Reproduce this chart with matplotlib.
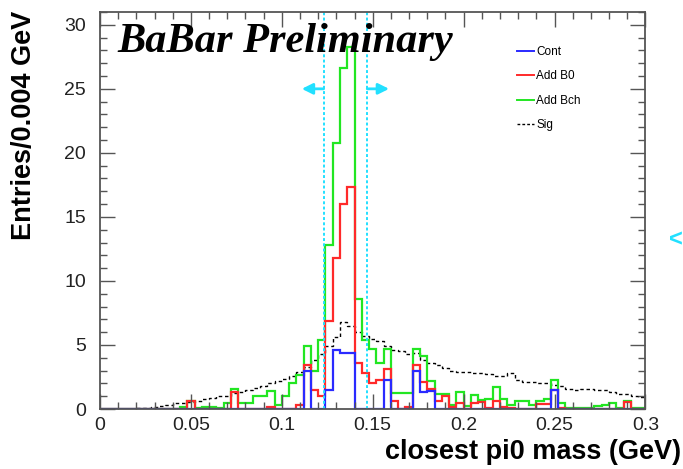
"""Plot the closest pi0 mass spectrum for the continuum and B background samples."""

import matplotlib.pyplot as plt
import numpy as np
from matplotlib.lines import Line2D
from matplotlib.ticker import MultipleLocator


BIN_WIDTH = 0.004
N_BINS = 75

# Entries per bin, bins of 0.004 GeV from 0 to 0.3 GeV
CONT_VALUES = [
    0, 0, 0, 0, 0, 0, 0, 0, 0, 0,
    0, 0, 0, 0, 0, 0, 0, 0, 0, 0,
    0, 0, 0, 0, 0, 0, 0, 0, 3.0, 0,
    0, 1.5, 4.6, 4.35, 4.4, 0, 0, 0, 0, 2.3,
    0, 0, 0, 3.0, 1.35, 1.4, 0, 0, 0, 0,
    0, 0, 0, 0, 0, 0, 0, 0, 0, 0,
    0, 0, 1.5, 0, 0, 0, 0, 0, 0, 0,
    0, 0, 0, 0, 0,
]
ADD_B0_VALUES = [
    0, 0, 0, 0, 0, 0, 0, 0, 0, 0,
    0, 0, 0.6, 0, 0, 0, 0, 0, 1.35, 0,
    0, 0, 0, 0.15, 0, 0, 0, 0.35, 3.4, 1.5,
    1.05, 6.9, 11.8, 16.0, 17.3, 3.6, 2.8, 2.0, 2.3, 3.1,
    0.65, 0, 0.15, 3.45, 2.1, 1.6, 0.6, 1.0, 0.15, 0.5,
    0, 0.5, 0.55, 0.1, 0.6, 0.15, 0.1, 0, 0, 0,
    0.4, 0.4, 1.5, 0.1, 0, 0, 0, 0, 0, 0,
    0, 0, 0.55, 0, 0,
]
ADD_BCH_VALUES = [
    0, 0, 0, 0, 0, 0, 0, 0, 0, 0,
    0, 0.15, 0.6, 0.1, 0.15, 0.15, 0.1, 0.5, 1.6, 0.5,
    0.5, 1.0, 1.0, 1.4, 0.3, 1.0, 2.0, 2.65, 4.9, 3.0,
    5.4, 12.8, 20.8, 26.6, 28.3, 8.6, 5.4, 4.7, 3.6, 4.7,
    1.25, 1.25, 1.25, 4.65, 4.1, 2.2, 1.2, 1.2, 0.3, 1.35,
    0.2, 1.1, 0.7, 0.8, 1.75, 0.8, 0.3, 0.6, 0.6, 0.3,
    0.6, 0.8, 2.3, 0.5, 0.1, 0.1, 0.1, 0.1, 0.2, 0.3,
    0.5, 0.1, 0.65, 0.1, 0.05,
]
SIG_VALUES = [
    0, 0, 0, 0, 0, 0.05, 0.1, 0.15, 0.25, 0.3,
    0.45, 0.5, 0.55, 0.65, 0.8, 0.85, 1.0, 1.05, 1.25, 1.35,
    1.5, 1.65, 1.8, 2.0, 2.2, 2.35, 2.6, 2.9, 3.3, 3.8,
    4.3, 4.9, 5.6, 6.8, 6.5, 6.0, 5.7, 5.5, 5.3, 4.9,
    4.6, 4.5, 4.3, 4.4, 3.8, 3.6, 3.4, 3.2, 3.0, 2.9,
    2.9, 2.85, 2.8, 2.7, 2.6, 2.6, 2.8, 2.3, 2.1, 2.1,
    2.0, 2.0, 1.9, 1.8, 1.6, 1.5, 1.6, 1.6, 1.5, 1.5,
    1.3, 1.2, 1.15, 1.0, 0.9,
]

SERIES_LABELS = ["Cont", "Add B0", "Add Bch", "Sig"]
SERIES_COLORS = ["#2a2aff", "#ff2a2a", "#22e622", "black"]

# Signal window on the pi0 mass
CUT_LOW = 0.123
CUT_HIGH = 0.147
CUT_COLOR = "#22e0ff"


def draw_histograms(ax, edges):
    """Draw the step histograms, backgrounds drawn from the widest sum down."""
    ax.stairs(SIG_VALUES, edges, color=SERIES_COLORS[3], lw=1.0,
              linestyle=(0, (2.5, 2)))
    ax.stairs(ADD_BCH_VALUES, edges, color=SERIES_COLORS[2], lw=1.6)
    ax.stairs(ADD_B0_VALUES, edges, color=SERIES_COLORS[1], lw=1.6)
    ax.stairs(CONT_VALUES, edges, color=SERIES_COLORS[0], lw=1.6)


def draw_cuts(ax):
    """Draw the mass window lines and the arrows pointing away from it."""
    for cut in (CUT_LOW, CUT_HIGH):
        ax.axvline(cut, color=CUT_COLOR, lw=1.4, linestyle=(0, (1.5, 1.2)))

    arrow_y = 25
    arrow_len = 0.012
    arrow_style = dict(arrowstyle="-|>", color=CUT_COLOR, lw=2.0,
                       mutation_scale=16, shrinkA=0, shrinkB=0)
    ax.annotate("", xy=(CUT_LOW - arrow_len, arrow_y), xytext=(CUT_LOW, arrow_y),
                arrowprops=arrow_style)
    ax.annotate("", xy=(CUT_HIGH + arrow_len, arrow_y), xytext=(CUT_HIGH, arrow_y),
                arrowprops=arrow_style)


def style_axes(ax):
    """Give the axes a ROOT-like frame with inward ticks on every side."""
    ax.set_xlim(0, 0.3)
    ax.set_ylim(0, 31)
    ax.xaxis.set_major_locator(MultipleLocator(0.05))
    ax.xaxis.set_minor_locator(MultipleLocator(0.01))
    ax.yaxis.set_major_locator(MultipleLocator(5))
    ax.yaxis.set_minor_locator(MultipleLocator(1))
    ax.set_xticks(np.arange(0, 0.31, 0.05))
    ax.set_xticklabels(["0", "0.05", "0.1", "0.15", "0.2", "0.25", "0.3"])

    ax.tick_params(which="both", direction="in", top=True, right=True,
                   color="#555555", labelsize=14, labelcolor="#222222")
    ax.tick_params(which="major", length=11, width=1.0, pad=6)
    ax.tick_params(which="minor", length=5, width=1.0)
    ax.tick_params(axis="y", pad=10)
    for spine in ax.spines.values():
        spine.set_color("#555555")
        spine.set_linewidth(1.3)


def add_legend(fig):
    """Add the series legend in the upper right corner."""
    handles = [
        Line2D([], [], color=SERIES_COLORS[0], lw=1.4),
        Line2D([], [], color=SERIES_COLORS[1], lw=1.4),
        Line2D([], [], color=SERIES_COLORS[2], lw=1.4),
        Line2D([], [], color=SERIES_COLORS[3], lw=1.0, linestyle=(0, (2, 1.5))),
    ]
    fig.legend(handles, SERIES_LABELS, loc="upper left",
               bbox_to_anchor=(517 / 683, 1 - 46 / 469), frameon=False,
               fontsize=8.5, handlelength=1.45, handletextpad=0.2,
               labelspacing=1.05, borderpad=0, borderaxespad=0)


def main():
    """Build the figure and save it as out.png."""
    plt.rcParams["font.family"] = ["Liberation Sans", "DejaVu Sans"]

    edges = np.arange(N_BINS + 1) * BIN_WIDTH

    fig = plt.figure(figsize=(6.83, 4.69), dpi=100)
    ax = fig.add_axes([100 / 683, 60 / 469, 545.4 / 683, 397 / 469])

    draw_histograms(ax, edges)
    draw_cuts(ax)
    style_axes(ax)
    add_legend(fig)

    fig.text(117 / 683, 1 - 42 / 469, "BaBar Preliminary",
             family="Liberation Serif", weight="bold", style="italic",
             fontsize=30.5, va="center", ha="left")
    fig.text(24 / 683, 1 - 11 / 469, "Entries/0.004 GeV", rotation=90,
             fontsize=19.5, weight="bold", ha="center", va="top")
    fig.text(681 / 683, 1 - 452 / 469, "closest pi0 mass (GeV)",
             fontsize=19.5, weight="bold", ha="right", va="center")
    fig.text(676 / 683, 1 - 240 / 469, "<", color=CUT_COLOR, fontsize=17,
             weight="bold", ha="center", va="center")

    fig.savefig("out.png", dpi=100)


if __name__ == "__main__":
    main()
